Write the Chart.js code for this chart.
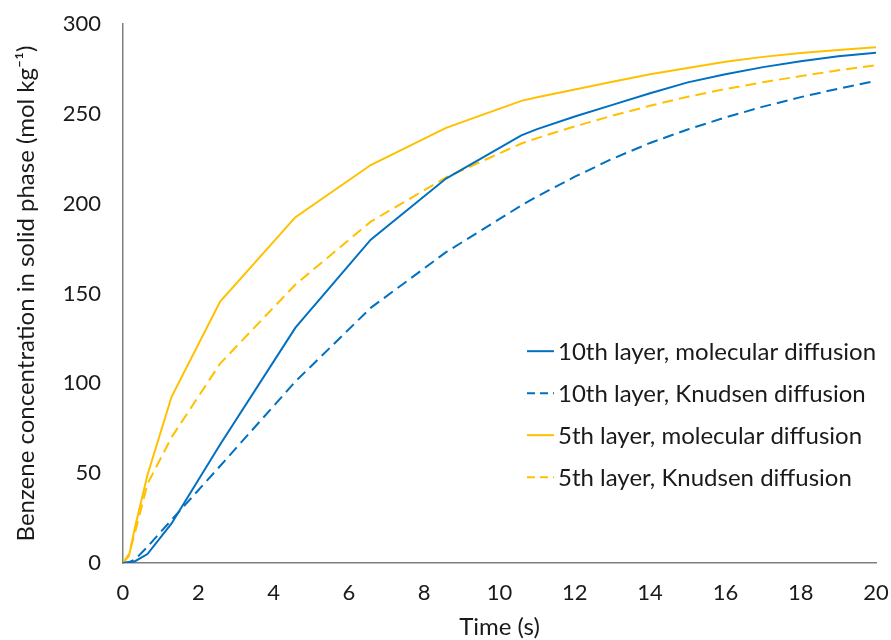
<!DOCTYPE html>
<html>
<head>
<meta charset="utf-8">
<script src="https://cdn.jsdelivr.net/npm/chart.js@4.4.0/dist/chart.umd.min.js"></script>
<style>
  html, body { margin: 0; padding: 0; background: #fff; }
  #wrap { width: 891px; height: 640px; }
</style>
</head>
<body>
<div id="wrap"><canvas id="uptakeChart"></canvas></div>
<script>
// time (s) and solid phase benzene concentration (mol/kg)
const time = [0, 0.16, 0.32, 0.65, 1.29, 2.58, 4.58, 6.58, 8.58, 10.58, 11, 12, 13, 14, 15, 16, 17, 18, 19, 20];
const layer10Molecular = [0, 0.3, 1, 5, 22, 66, 131, 180, 214, 238, 241.5, 248.5, 255, 261.5, 267.5, 272, 276, 279.3, 282, 284];
const layer10Knudsen = [0, 0.5, 2, 9, 24, 54, 101, 142, 173, 199, 204, 215, 225, 233.8, 241.3, 248, 254, 259.3, 264, 268.3];
const layer5Molecular = [0, 4, 20, 49, 92.5, 145.5, 192.5, 221.5, 242.2, 257.2, 259.2, 263.5, 267.8, 272, 275.5, 279, 281.7, 283.8, 285.5, 287];
const layer5Knudsen = [0, 5, 17, 44, 70, 111, 155, 190, 214.6, 233.5, 236.5, 243, 249, 254.5, 259.5, 263.8, 267.6, 271, 274.2, 277];

const seriesLabels = [
    '10th layer, molecular diffusion',
    '10th layer, Knudsen diffusion',
    '5th layer, molecular diffusion',
    '5th layer, Knudsen diffusion'
];
const xTicks = [0, 2, 4, 6, 8, 10, 12, 14, 16, 18, 20];
const yTicks = [0, 50, 100, 150, 200, 250, 300];

const BLUE = '#0070C0';
const GOLD = '#FFC000';
const FONT = 'Lato, "Open Sans", sans-serif';
const TEXT = '#1a1a1a';

function toPoints(values) {
    return values.map((v, i) => ({ x: time[i], y: v }));
}

function makeSet(label, values, color, dashed) {
    return {
        label,
        data: toPoints(values),
        borderColor: color,
        backgroundColor: color,
        borderWidth: 2,
        borderDash: dashed ? [11, 6] : [],
        pointRadius: 0,
        tension: 0,
        fill: false
    };
}

// legend drawn inside the plot area, like the original
const insideLegend = {
    id: 'insideLegend',
    afterDraw(chart) {
        const { ctx, chartArea } = chart;
        const left = chartArea.left + (chartArea.right - chartArea.left) * 0.5365;
        const top = chartArea.top + (chartArea.bottom - chartArea.top) * 0.607;
        ctx.save();
        ctx.font = '24px ' + FONT;
        ctx.textBaseline = 'middle';
        chart.data.datasets.forEach((ds, i) => {
            const y = top + i * 42;
            ctx.strokeStyle = ds.borderColor;
            ctx.lineWidth = 2;
            ctx.setLineDash(ds.borderDash.length ? [8, 5] : []);
            ctx.beginPath();
            ctx.moveTo(left, y);
            ctx.lineTo(left + 27, y);
            ctx.stroke();
            ctx.setLineDash([]);
            ctx.fillStyle = TEXT;
            ctx.fillText(ds.label, left + 31, y + 1);
        });
        ctx.restore();
    }
};

const ctx = document.getElementById('uptakeChart').getContext('2d');
const uptakeChart = new Chart(ctx, {
    type: 'line',
    data: {
        datasets: [
            makeSet(seriesLabels[0], layer10Molecular, BLUE, false),
            makeSet(seriesLabels[1], layer10Knudsen, BLUE, true),
            makeSet(seriesLabels[2], layer5Molecular, GOLD, false),
            makeSet(seriesLabels[3], layer5Knudsen, GOLD, true)
        ]
    },
    options: {
        responsive: true,
        maintainAspectRatio: false,
        animation: false,
        layout: { padding: { top: 24, right: 15, left: 12, bottom: 0 } },
        plugins: {
            legend: { display: false },
            tooltip: { enabled: false }
        },
        scales: {
            x: {
                type: 'linear',
                min: 0,
                max: 20,
                afterBuildTicks: scale => { scale.ticks = xTicks.map(v => ({ value: v })); },
                afterFit: scale => {
                    scale.height = 77;
                    scale.paddingLeft = 0;
                    scale.paddingRight = 0;
                },
                grid: { display: false, drawTicks: false },
                border: { display: true, color: '#7f7f7f', width: 1.5 },
                ticks: { padding: 17, color: TEXT, font: { family: FONT, size: 22 } },
                title: {
                    display: true,
                    text: 'Time (s)',
                    color: TEXT,
                    padding: { top: 2, bottom: -2 },
                    font: { family: FONT, size: 24 }
                }
            },
            y: {
                min: 0,
                max: 300,
                afterBuildTicks: scale => { scale.ticks = yTicks.map(v => ({ value: v })); },
                afterFit: scale => {
                    scale.width = 111;
                    scale.paddingTop = 0;
                    scale.paddingBottom = 0;
                },
                grid: { display: false, drawTicks: false },
                border: { display: true, color: '#7f7f7f', width: 1.5 },
                ticks: { padding: 22, color: TEXT, font: { family: FONT, size: 22 } },
                title: {
                    display: true,
                    text: 'Benzene concentration in solid phase (mol kg⁻¹)',
                    color: TEXT,
                    padding: { top: 0, bottom: 0 },
                    font: { family: FONT, size: 24 }
                }
            }
        }
    },
    plugins: [insideLegend]
});
</script>
</body>
</html>
